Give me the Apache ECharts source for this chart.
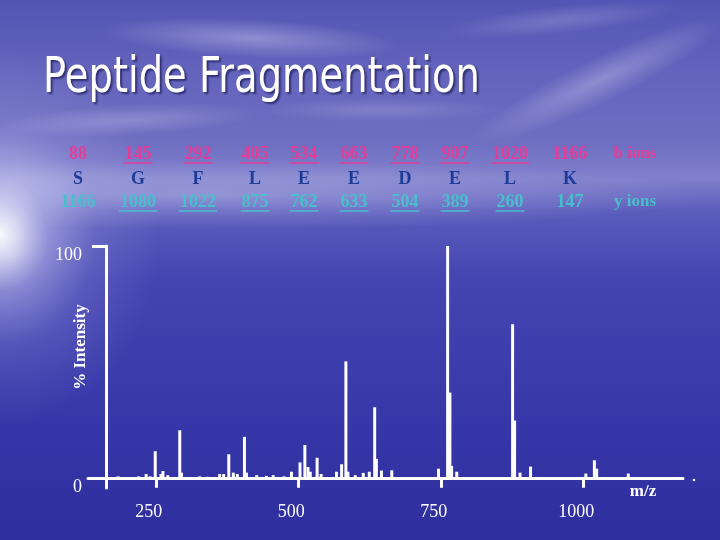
<!DOCTYPE html>
<html><head><meta charset="utf-8">
<script src="https://cdn.jsdelivr.net/npm/echarts@6/dist/echarts.min.js"></script>
<style>html,body{margin:0;padding:0;background:#3a3aac;}#c{width:720px;height:540px;}</style>
</head><body><div id="c"></div>
<script>
// ---- data ----
const mzValues    = [184, 220, 233, 240, 249, 259, 262.5, 271, 292, 295, 327, 340, 362, 369, 378, 386, 393, 405.5, 409, 427, 444, 456, 475, 488, 503, 511.5, 517, 521, 533, 540, 567, 576, 583.5, 587, 600, 614, 624.5, 634, 637, 646, 664, 746, 762, 766, 769, 778, 876, 879.5, 889, 907.5, 1004.5, 1019.5, 1023.5, 1079];
const intensities = [1, 1, 2, 1, 11.8, 2, 3.3, 1.5, 20.8, 2.6, 1, 0.8, 2, 2, 10.5, 2.6, 2, 18, 2.6, 1.5, 1.2, 1.5, 1, 3, 7, 14.5, 5, 3, 9, 2, 3, 6.2, 50.4, 3, 1.5, 2.5, 3, 30.7, 8.5, 3.5, 3.6, 4.3, 100, 37, 5.5, 3, 66.4, 25, 2.6, 5.2, 2.2, 7.9, 4.3, 2.2];
const xTicks = [250, 500, 750, 1000];
const yTicks = [0, 100];
const bIons    = ['88', '145', '292', '405', '534', '663', '778', '907', '1020', '1166'];
const residues = ['S', 'G', 'F', 'L', 'E', 'E', 'D', 'E', 'L', 'K'];
const yIons    = ['1166', '1080', '1022', '875', '762', '633', '504', '389', '260', '147'];
const bUnderlined = [false, true, true, true, true, true, true, true, true, false];
const yUnderlined = [false, true, true, true, true, true, true, true, true, false];
const titleText = 'Peptide Fragmentation';
const yAxisTitle = '% Intensity';
const xAxisTitle = 'm/z';

// ---- layout ----
const colX = [78, 138, 198, 255, 304, 354, 405, 455, 510, 570];
const rowY = [154, 179, 202];
const PINK = '#e53c98', DARKBLUE = '#1d3c98', CYAN = '#48bfcb';
const SERIF = '"Liberation Serif", "Times New Roman", serif';

const chart = echarts.init(document.getElementById('c'), null, {renderer: 'canvas'});

const els = [];
// background
els.push({type: 'rect', z: -100, shape: {x: 0, y: 0, width: 720, height: 540},
  style: {fill: new echarts.graphic.LinearGradient(0, 0, 0, 1, [
    {offset: 0, color: '#5454b4'}, {offset: 0.12, color: '#6262bc'}, {offset: 0.26, color: '#6e6ec2'},
    {offset: 0.33, color: '#8080cc'}, {offset: 0.39, color: '#5c5cbc'}, {offset: 0.52, color: '#4444b2'},
    {offset: 0.8, color: '#3636a8'}, {offset: 1, color: '#2e2e9e'}])}});
// left glare
els.push({type: 'circle', z: -99, x: 0, y: 235, scaleX: 0.85, scaleY: 1.0, shape: {cx: 0, cy: 0, r: 190},
  style: {fill: new echarts.graphic.RadialGradient(0.5, 0.5, 0.5, [
    {offset: 0, color: 'rgba(255,255,255,0.97)'}, {offset: 0.12, color: 'rgba(245,245,255,0.8)'},
    {offset: 0.3, color: 'rgba(220,220,252,0.45)'}, {offset: 0.6, color: 'rgba(200,200,245,0.15)'},
    {offset: 1, color: 'rgba(200,200,245,0)'}])}});
// horizon haze
els.push({type: 'circle', z: -99, x: 200, y: 195, scaleX: 3.2, scaleY: 0.22, shape: {cx: 0, cy: 0, r: 160},
  style: {fill: new echarts.graphic.RadialGradient(0.5, 0.5, 0.5, [
    {offset: 0, color: 'rgba(220,220,250,0.35)'}, {offset: 1, color: 'rgba(220,220,250,0)'}])}});
// cloud streaks: [x, y, r, scaleY, rotation, alpha]
const clouds = [[250, 38, 150, 0.13, -0.05, 0.35], [130, 120, 130, 0.12, 0.05, 0.25], [600, 80, 140, 0.16, 0.45, 0.3],
                [560, 20, 120, 0.12, 0.1, 0.2], [380, 110, 120, 0.1, 0, 0.18]];
clouds.forEach(c => els.push({type: 'circle', z: -98, x: c[0], y: c[1], scaleY: c[3], rotation: c[4],
  shape: {cx: 0, cy: 0, r: c[2]},
  style: {fill: new echarts.graphic.RadialGradient(0.5, 0.5, 0.5, [
    {offset: 0, color: 'rgba(235,235,255,' + c[5] + ')'}, {offset: 1, color: 'rgba(235,235,255,0)'}])}}));

// title
els.push({type: 'text', x: 43, y: 79, scaleX: 0.785, z: 10,
  style: {text: titleText, font: '49px "DejaVu Sans", sans-serif', fill: '#ffffff',
    verticalAlign: 'middle', align: 'left',
    textShadowColor: 'rgba(30,30,90,0.75)', textShadowOffsetX: 2, textShadowOffsetY: 2, textShadowBlur: 2}});

// ion table
function addRow(arr, y, color, under) {
  arr.forEach((t, i) => {
    els.push({type: 'text', x: colX[i], y: y, z: 10,
      style: {text: t, font: 'bold 18px ' + SERIF, fill: color, align: 'center', verticalAlign: 'middle'}});
    if (under && under[i]) {
      const w = t.length * 9 + 2;
      els.push({type: 'line', z: 10, shape: {x1: colX[i] - w / 2, y1: y + 9, x2: colX[i] + w / 2, y2: y + 9},
        style: {stroke: color, lineWidth: 1.5}});
    }
  });
}
addRow(bIons, rowY[0], PINK, bUnderlined);
addRow(residues, rowY[1], DARKBLUE, null);
addRow(yIons, rowY[2], CYAN, yUnderlined);
els.push({type: 'text', x: 635, y: rowY[0], z: 10, style: {text: 'b ions', font: 'bold 17px ' + SERIF, fill: PINK, align: 'center', verticalAlign: 'middle'}});
els.push({type: 'text', x: 635, y: rowY[2], z: 10, style: {text: 'y ions', font: 'bold 17px ' + SERIF, fill: CYAN, align: 'center', verticalAlign: 'middle'}});

// axis titles
els.push({type: 'text', x: 81, y: 347, rotation: Math.PI / 2, z: 10,
  style: {text: yAxisTitle, font: 'bold 17px ' + SERIF, fill: '#ffffff', align: 'center', verticalAlign: 'middle'}});
els.push({type: 'text', x: 643, y: 492, z: 10,
  style: {text: xAxisTitle, font: 'bold 17px ' + SERIF, fill: '#ffffff', align: 'center', verticalAlign: 'middle'}});
els.push({type: 'circle', z: 10, shape: {cx: 694, cy: 480, r: 1.3}, style: {fill: '#ffffff'}});

const option = {
  animation: false,
  graphic: {elements: els},
  grid: {left: 88, right: 37, top: 246, bottom: 52, containLabel: false},
  xAxis: {
    type: 'value', min: 131, max: 1175,
    axisLine: {show: true, onZero: true, lineStyle: {color: '#fff', width: 3}},
    axisTick: {show: true, inside: false, length: 9, customValues: xTicks, lineStyle: {color: '#fff', width: 3}},
    axisLabel: {show: true, customValues: xTicks, formatter: v => String(v), color: '#fff', fontFamily: SERIF, fontSize: 18, margin: 15, padding: [0, 14, 0, 0]},
    splitLine: {show: false}
  },
  yAxis: {
    type: 'value', min: -4, max: 100, offset: -18,
    axisLine: {show: true, onZero: false, lineStyle: {color: '#fff', width: 3}},
    axisTick: {show: true, inside: false, length: 14, customValues: [100], lineStyle: {color: '#fff', width: 3}},
    axisLabel: {show: true, customValues: yTicks, color: '#fff', fontFamily: SERIF, fontSize: 18, margin: 24, verticalAlign: 'top'},
    splitLine: {show: false}
  },
  series: [{
    type: 'bar', barWidth: 3, barGap: '-100%',
    itemStyle: {color: '#ffffff'},
    data: mzValues.map((m, i) => [m, intensities[i]])
  }]
};
chart.setOption(option);
</script></body></html>
